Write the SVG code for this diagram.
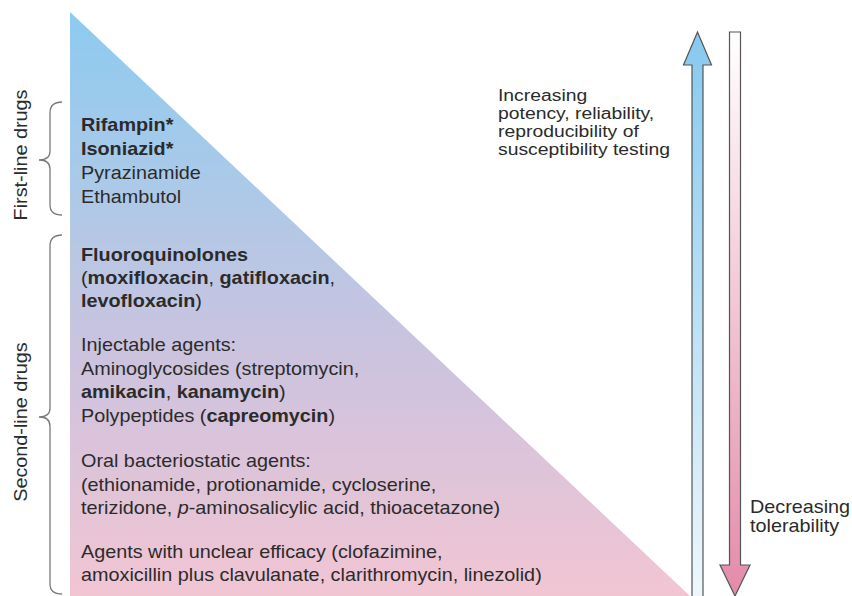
<svg xmlns="http://www.w3.org/2000/svg" width="852" height="596" viewBox="0 0 852 596">
<defs>
<linearGradient id="triGrad" gradientUnits="userSpaceOnUse" x1="0" y1="12" x2="0" y2="596">
<stop offset="0" stop-color="#8ccbf0"/>
<stop offset="0.3" stop-color="#acc9e8"/>
<stop offset="0.6" stop-color="#cdc3de"/>
<stop offset="1" stop-color="#f2c5d3"/>
</linearGradient>
<linearGradient id="upGrad" gradientUnits="userSpaceOnUse" x1="0" y1="32" x2="0" y2="596">
<stop offset="0" stop-color="#86c9ef"/>
<stop offset="1" stop-color="#eef7fc"/>
</linearGradient>
<linearGradient id="downGrad" gradientUnits="userSpaceOnUse" x1="0" y1="32" x2="0" y2="596">
<stop offset="0" stop-color="#ffffff"/>
<stop offset="1" stop-color="#e48aab"/>
</linearGradient>
<style>
.t{font-family:"Liberation Sans",Arial,Helvetica,sans-serif;font-size:18px;fill:#2b2b2b}
.s{font-size:15.6px}
.b{font-weight:bold}
.brace{fill:none;stroke:#7a7a7a;stroke-width:1.3}
.arr{stroke:#555;stroke-width:1.2;stroke-linejoin:miter}
</style>
</defs>
<rect width="852" height="596" fill="#ffffff"/>

<g id="triangle">
<polygon points="70,12 70,596 690,596" fill="url(#triGrad)"/>
</g>

<g id="labels-side">
<text class="t" text-anchor="middle" transform="translate(27,155) rotate(-90) scale(1.1,1)">First-line drugs</text>
<text class="t" text-anchor="middle" transform="translate(27,422) rotate(-90) scale(1.1,1)">Second-line drugs</text>
</g>

<g id="braces">
<path class="brace" d="M62,102 C53,102 50,106 50,113 L50,151 C50,157 46,160 39,160 C46,160 50,163 50,169 L50,205 C50,211 53,215 62,215"/>
<path class="brace" d="M62,235 C53,235 50,239 50,246 L50,408 C50,414 46,417 39,417 C46,417 50,420 50,426 L50,584 C50,590 53,594 62,594"/>
</g>

<g id="first-line" transform="translate(81,0) scale(1.1,1)">
<text class="t b" x="0" y="131">Rifampin*</text>
<text class="t b" x="0" y="155">Isoniazid*</text>
<text class="t" x="0" y="179">Pyrazinamide</text>
<text class="t" x="0" y="203">Ethambutol</text>
</g>

<g id="fluoroquinolones" transform="translate(81,0) scale(1.1,1)">
<text class="t b" x="0" y="261">Fluoroquinolones</text>
<text class="t" x="0" y="284">(<tspan class="b">moxifloxacin</tspan>, <tspan class="b">gatifloxacin</tspan>,</text>
<text class="t" x="0" y="307"><tspan class="b">levofloxacin</tspan>)</text>
</g>

<g id="injectable" transform="translate(81,0) scale(1.1,1)">
<text class="t" x="0" y="351">Injectable agents:</text>
<text class="t" x="0" y="375">Aminoglycosides (streptomycin,</text>
<text class="t" x="0" y="398"><tspan class="b">amikacin</tspan>, <tspan class="b">kanamycin</tspan>)</text>
<text class="t" x="0" y="422">Polypeptides (<tspan class="b">capreomycin</tspan>)</text>
</g>

<g id="oral" transform="translate(81,0) scale(1.1,1)">
<text class="t" x="0" y="467">Oral bacteriostatic agents:</text>
<text class="t" x="0" y="491">(ethionamide, protionamide, cycloserine,</text>
<text class="t" x="0" y="514">terizidone, <tspan font-style="italic">p</tspan>-aminosalicylic acid, thioacetazone)</text>
</g>

<g id="unclear" transform="translate(81,0) scale(1.1,1)">
<text class="t" x="0" y="558">Agents with unclear efficacy (clofazimine,</text>
<text class="t" x="0" y="581">amoxicillin plus clavulanate, clarithromycin, linezolid)</text>
</g>

<g id="connectors">
<path class="arr" fill="url(#upGrad)" d="M692,597 L692,65 L683.5,65 L697.5,32 L711.5,65 L703,65 L703,597"/>
<path class="arr" fill="url(#downGrad)" d="M729.5,32 L740.5,32 L740.5,565 L750,565 L735,596 L720,565 L729.5,565 Z"/>
</g>

<g id="label-increasing" transform="translate(498,0) scale(1.24,1)">
<text class="t s" x="0" y="101">Increasing</text>
<text class="t s" x="0" y="119">potency, reliability,</text>
<text class="t s" x="0" y="137">reproducibility of</text>
<text class="t s" x="0" y="155">susceptibility testing</text>
</g>

<g id="label-decreasing" transform="translate(750,0) scale(1.1,1)">
<text class="t" x="0" y="513">Decreasing</text>
<text class="t" x="0" y="532">tolerability</text>
</g>
</svg>
